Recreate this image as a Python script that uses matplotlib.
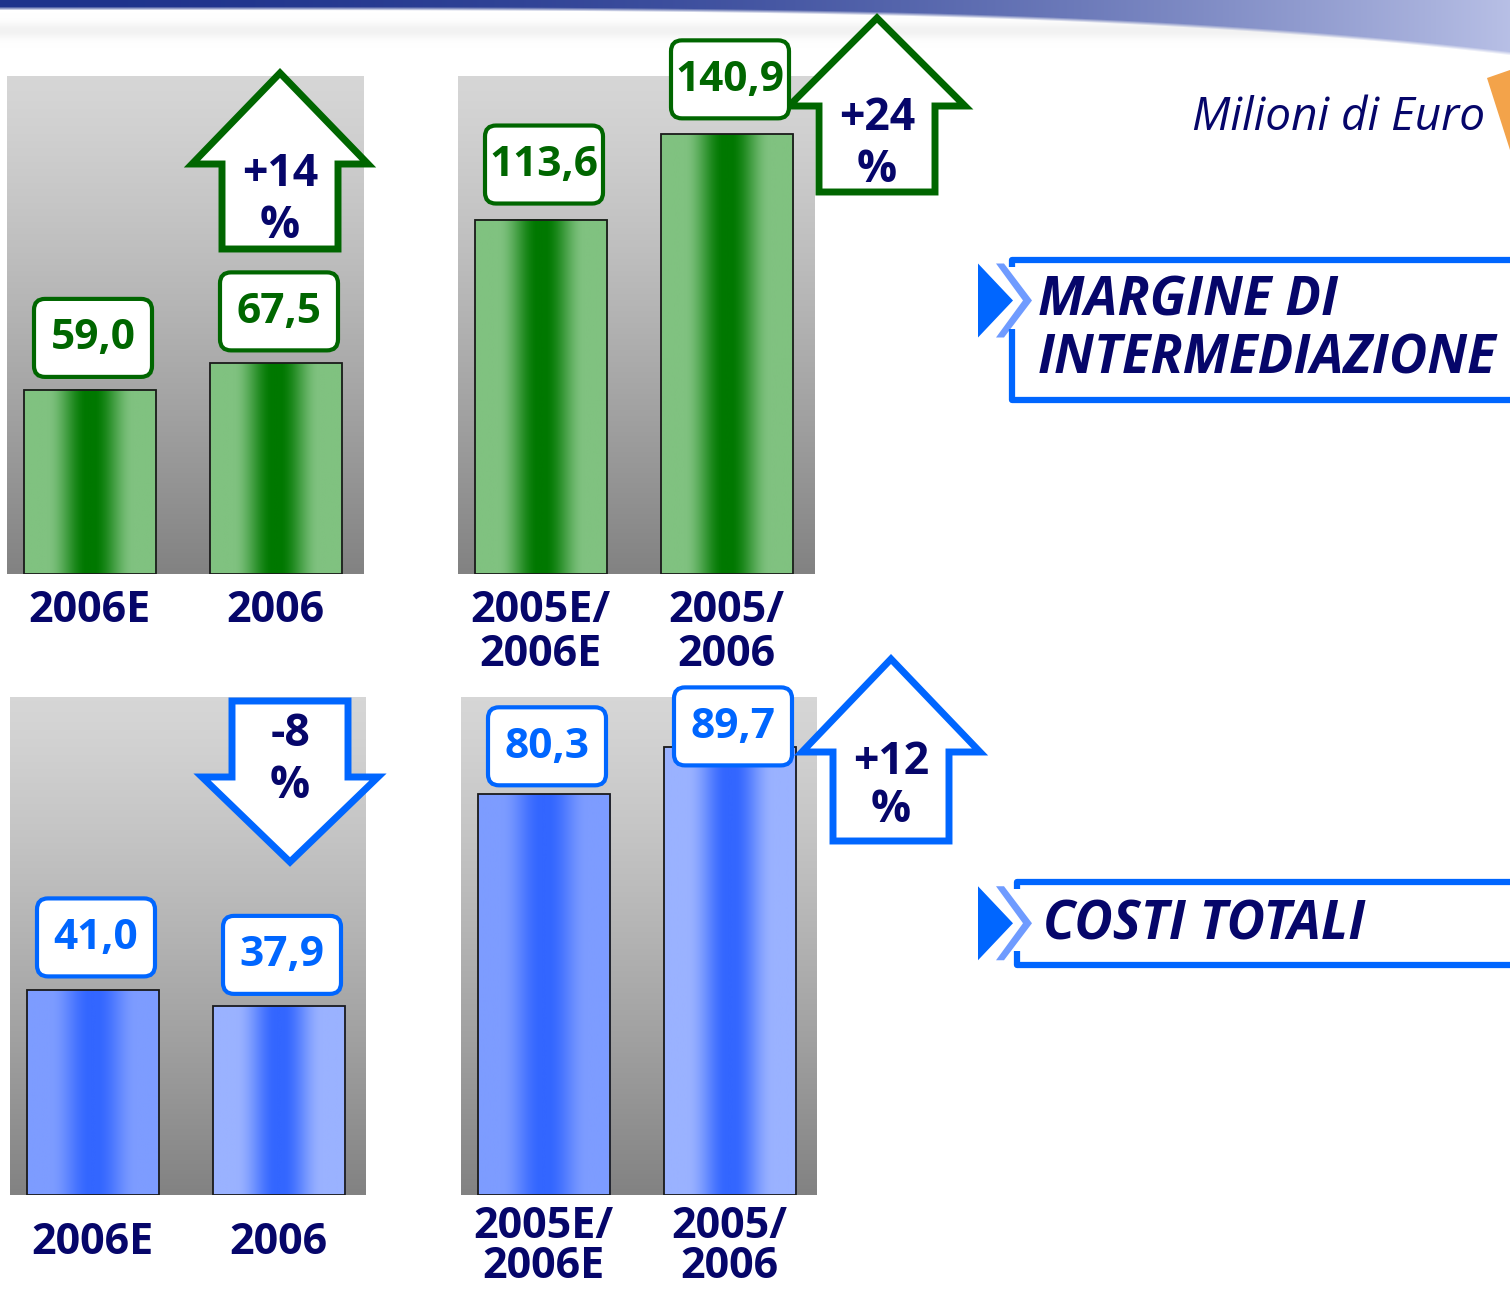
import numpy as np
import matplotlib.pyplot as plt
from matplotlib import font_manager as fm
from matplotlib.patches import Polygon, FancyBboxPatch
from matplotlib.colors import to_rgb

# --- data (Milioni di Euro) ---
cats_year = ["2006E", "2006"]
cats_cum = ["2005E/\n2006E", "2005/\n2006"]
margine_year = [59.0, 67.5]
margine_cum = [113.6, 140.9]
costi_year = [41.0, 37.9]
costi_cum = [80.3, 89.7]
changes = ["+14\n%", "+24\n%", "-8\n%", "+12\n%"]
titles = ["MARGINE DI\nINTERMEDIAZIONE", "COSTI TOTALI"]
unit_label = "Milioni di Euro"

# pick a family that really has a bold face
FAM = 'DejaVu Sans'
for f in ['Noto Sans', 'Open Sans', 'Lato', 'Roboto']:
    try:
        path = fm.findfont(fm.FontProperties(family=f, weight='bold'),
                           fallback_to_default=False)
        if 'bold' in path.lower():
            FAM = f
            break
    except Exception:
        pass
plt.rcParams['font.family'] = [FAM, 'DejaVu Sans']

W, H = 1510, 1290
NAVY = '#06066a'
GREEN = '#006600'
BLUE = '#0066ff'
fig = plt.figure(figsize=(W / 100, H / 100), dpi=100)

# overlay in pixel coords for the decorations
deco = fig.add_axes([0, 0, 1, 1], zorder=5)
deco.set_xlim(0, W)
deco.set_ylim(H, 0)
deco.axis('off')


def px(ax, x, y):
    d = ax.transData.transform((x, y))
    return d[0], H - d[1]


def bar_grad(edge, center, n=200):
    t = np.abs(np.linspace(-1, 1, n))
    s = np.clip((t - 0.05) / 0.6, 0, 1)
    s = s * s * (3 - 2 * s)
    e = np.array(to_rgb(edge))
    c = np.array(to_rgb(center))
    return (c + (e - c) * s[:, None])[None, :, :]


def value_box(cx, cy, txt, col):
    w, h = 118, 78
    deco.add_patch(FancyBboxPatch((cx - w / 2, cy - h / 2), w, h,
                                  boxstyle="round,pad=0,rounding_size=11",
                                  fc='white', ec=col, lw=3, zorder=6))
    deco.text(cx, cy + 1, txt, ha='center', va='center', fontsize=30.5,
              fontweight='bold', color=col, zorder=7)


def arrow(cx, tip, base, hw, sw, tail, col, txt, ty):
    pts = [(cx, tip), (cx + hw, base), (cx + sw, base), (cx + sw, tail),
           (cx - sw, tail), (cx - sw, base), (cx - hw, base)]
    deco.add_patch(Polygon(pts, closed=True, fc='white', ec=col, lw=5,
                           joinstyle='miter', zorder=4))
    for line, y in zip(txt.split("\n"), ty):
        deco.text(cx, y, line, ha='center', va='center', fontsize=32,
                  fontweight='bold', color=NAVY, zorder=7)


# gray backdrop gradient
g = np.linspace(0, 1, 256)
gray = 0.84 - 0.33 * g ** 1.2
gray_img = np.repeat(gray[:, None, None], 3, axis=2).repeat(2, axis=1)

panels = [
    dict(rect=(7, 76, 357, 498), vals=margine_year, cats=cats_year, ymax=159.6,
         col=GREEN, edges=['#80c280', '#80c280'], center='#007800',
         lift=[52, 52], lab_y=[611, 655],
         arrow=(280, 73, 164, 88, 58, 249), chg=changes[0], ty=[174, 226]),
    dict(rect=(458, 76, 357, 498), vals=margine_cum, cats=cats_cum, ymax=159.6,
         col=GREEN, edges=['#80c280', '#80c280'], center='#007800',
         lift=[55, 55], lab_y=[611, 655],
         arrow=(877, 18, 106, 88, 58, 192), chg=changes[1], ty=[118, 170]),
    dict(rect=(10, 697, 356, 498), vals=costi_year, cats=cats_year, ymax=99.8,
         col=BLUE, edges=['#7d9cff', '#9ab2ff'], center='#3366ff',
         lift=[53, 51], lab_y=[1242, 1285],
         arrow=(290, 862, 777, 88, 58, 701), chg=changes[2], ty=[735, 786]),
    dict(rect=(461, 697, 356, 498), vals=costi_cum, cats=cats_cum, ymax=99.8,
         col=BLUE, edges=['#7d9cff', '#9ab2ff'], center='#3366ff',
         lift=[48, 21], lab_y=[1227, 1267],
         arrow=(891, 659, 752, 89, 58, 841), chg=changes[3], ty=[762, 810]),
]

xs = np.arange(2)
for p in panels:
    l, t, w, h = p['rect']
    ax = fig.add_axes([l / W, (H - t - h) / H, w / W, h / H], zorder=1)
    ax.imshow(gray_img, extent=(0, 1, 0, 1), transform=ax.transAxes,
              aspect='auto', zorder=0)
    bars = ax.bar(xs, p['vals'], width=0.71, color='none', edgecolor='#1a1a1a',
                  lw=1.3, zorder=3)
    for b, ec in zip(bars, p['edges']):
        ax.imshow(bar_grad(ec, p['center']), aspect='auto', zorder=2,
                  extent=(b.get_x(), b.get_x() + b.get_width(), 0, b.get_height()))
    ax.set_xlim(-83 / 186, (w - 83) / 186)
    ax.set_ylim(0, p['ymax'])
    ax.axis('off')

    for i, v in enumerate(p['vals']):
        bx, by = px(ax, xs[i], v)
        value_box(bx + 3, by - p['lift'][i], f"{v:.1f}".replace('.', ','), p['col'])
        for line, y in zip(p['cats'][i].split("\n"), p['lab_y']):
            deco.text(bx - 1, y, line, ha='center', va='center', fontsize=31,
                      fontweight='bold', color=NAVY)

    arrow(*p['arrow'], p['col'], p['chg'], p['ty'])

# banners on the right
def banner(y0, y1, left, txt, ty):
    ym = (y0 + y1) / 2 if y1 - y0 < 100 else y0 + 41
    deco.plot([W + 10, left, left], [y0, y0, ym - 34], color=BLUE, lw=4.5,
              solid_capstyle='butt')
    deco.plot([left, left, W + 10], [ym + 28, y1, y1], color=BLUE, lw=4.5,
              solid_capstyle='butt')
    deco.add_patch(Polygon([(978, ym - 37), (1013, ym), (978, ym + 37)],
                           fc=BLUE, ec='none'))
    deco.add_patch(Polygon([(996, ym - 37), (1004, ym - 37), (1032, ym),
                            (1004, ym + 37), (996, ym + 37), (1023, ym)],
                           fc='#6f9bff', ec='none'))
    for line, y in zip(txt.split("\n"), ty):
        deco.text(left + 26, y, line, ha='left', va='center', fontsize=38,
                  fontweight='bold', fontstyle='italic', color=NAVY)


banner(259.5, 400, 1012, titles[0], [302, 360])
banner(882, 964.5, 1017, titles[1], [925])

deco.text(1485, 118, unit_label, ha='right', va='center', fontsize=33,
          fontstyle='italic', color=NAVY)

# slide header strip
xx = np.linspace(0, 1, W)
yy = np.arange(60)[:, None]
thick = 6 + 45 * xx ** 4
c_left = np.array([0.12, 0.2, 0.55])
c_right = np.array([0.72, 0.75, 0.9])
col = c_left + (c_right - c_left) * (xx ** 2)[:, None]
band = np.zeros((60, W, 4))
band[:, :, :3] = col[None, :, :]
band[:, :, 3] = np.clip((thick[None, :] - yy) / 4 + 1, 0, 1)
deco.imshow(band, extent=(0, W, 60, 0), aspect='auto', zorder=0.5)
shadow = np.ones((40, W, 4)) * 0.9
shadow[:, :, 3] = np.exp(-((np.arange(40)[:, None] - 18) / 8) ** 2) * 0.5 * np.ones((1, W))
deco.imshow(shadow, extent=(0, W, 52, 12), aspect='auto', zorder=0.4)
deco.add_patch(Polygon([(1487, 78), (1510, 70), (1510, 150), (1502, 125)],
                       fc='#f3a34a', ec='none'))
deco.set_xlim(0, W)
deco.set_ylim(H, 0)

fig.savefig('out.png', dpi=100)
